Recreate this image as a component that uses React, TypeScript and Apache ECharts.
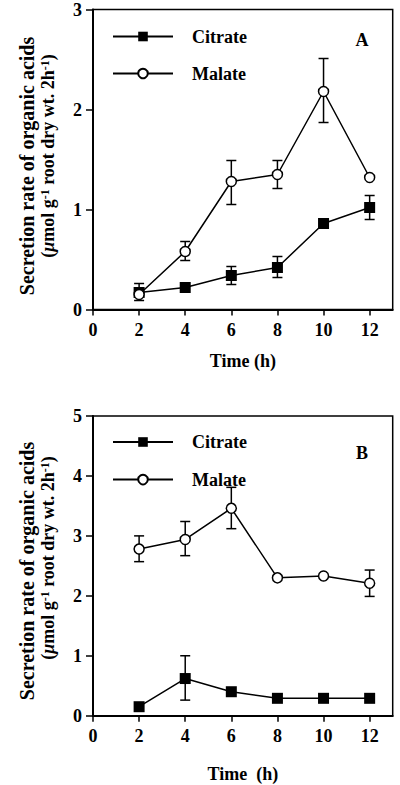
import React, { useEffect, useRef } from "react";
import * as echarts from "echarts";

const hours = [2, 4, 6, 8, 10, 12];
const xTicks = [0, 2, 4, 6, 8, 10, 12];

// Panel A
const citrateA = [0.17, 0.22, 0.34, 0.42, 0.86, 1.02];
const malateA = [0.15, 0.58, 1.28, 1.35, 2.18, 1.32];
const citrateErrA: [number, number, number][] = [
  [2, 0.09, 0.26],
  [6, 0.25, 0.43],
  [8, 0.32, 0.53],
  [12, 0.9, 1.14],
];
const malateErrA: [number, number, number][] = [
  [4, 0.49, 0.68],
  [6, 1.05, 1.49],
  [8, 1.21, 1.49],
  [10, 1.87, 2.51],
];

// Panel B
const citrateB = [0.15, 0.62, 0.4, 0.29, 0.29, 0.29];
const malateB = [2.78, 2.94, 3.46, 2.3, 2.33, 2.21];
const citrateErrB: [number, number, number][] = [[4, 0.26, 1.0]];
const malateErrB: [number, number, number][] = [
  [2, 2.57, 3.0],
  [4, 2.67, 3.24],
  [6, 3.12, 3.81],
  [12, 1.99, 2.43],
];

const FONT = "'Liberation Serif', 'Times New Roman', serif";

function pairs(vals: number[]) {
  return hours.map((h, i) => [h, vals[i]]);
}

function errSeries(data: [number, number, number][], gi: number) {
  return {
    type: "custom",
    xAxisIndex: gi,
    yAxisIndex: gi,
    z: 1,
    silent: true,
    data,
    renderItem: (params: any, api: any) => {
      const x = api.value(0);
      const lo = api.coord([x, api.value(1)]);
      const hi = api.coord([x, api.value(2)]);
      const w = 5;
      const st = { stroke: "#000", lineWidth: 1.5 };
      return {
        type: "group",
        children: [
          { type: "line", shape: { x1: lo[0], y1: lo[1], x2: hi[0], y2: hi[1] }, style: st },
          { type: "line", shape: { x1: hi[0] - w, y1: hi[1], x2: hi[0] + w, y2: hi[1] }, style: st },
          { type: "line", shape: { x1: lo[0] - w, y1: lo[1], x2: lo[0] + w, y2: lo[1] }, style: st },
        ],
      };
    },
  };
}

function lineSeries(name: string, vals: number[], gi: number, citrate: boolean) {
  return {
    type: "line",
    name,
    xAxisIndex: gi,
    yAxisIndex: gi,
    z: 3,
    data: pairs(vals),
    symbol: citrate ? "rect" : "circle",
    symbolSize: citrate ? 11 : 10,
    showAllSymbol: true,
    lineStyle: { color: "#000", width: 1.5 },
    itemStyle: {
      color: citrate ? "#000" : "#fff",
      borderColor: "#000",
      borderWidth: citrate ? 0 : 1.5,
    },
  };
}

function xAxisDef(gi: number, nameGap: number, name: string) {
  return {
    type: "value",
    gridIndex: gi,
    min: 0,
    max: 13,
    interval: 2,
    name,
    nameLocation: "middle",
    nameGap,
    nameTextStyle: { fontFamily: FONT, fontWeight: "bold", fontSize: 18, color: "#000" },
    axisLine: { show: true, lineStyle: { color: "#000", width: 2 } },
    axisTick: { show: true, inside: false, length: 6, customValues: xTicks, lineStyle: { color: "#000", width: 1.5 } },
    axisLabel: {
      customValues: xTicks,
      margin: 11,
      fontFamily: FONT,
      fontWeight: "bold",
      fontSize: 18,
      color: "#000",
    },
    splitLine: { show: false },
  };
}

function yAxisDef(gi: number, max: number) {
  return {
    type: "value",
    gridIndex: gi,
    min: 0,
    max,
    interval: 1,
    axisLine: { show: true, lineStyle: { color: "#000", width: 2 } },
    axisTick: { show: true, inside: false, length: 7, lineStyle: { color: "#000", width: 1.5 } },
    axisLabel: {
      margin: 11,
      fontFamily: FONT,
      fontWeight: "bold",
      fontSize: 18,
      color: "#000",
    },
    splitLine: { show: false },
  };
}

function legendDef(top: number, gap: number) {
  return {
    orient: "vertical",
    left: 112,
    top,
    padding: 0,
    itemWidth: 60,
    itemHeight: 12,
    itemGap: gap,
    data: ["Citrate", "Malate"],
    textStyle: {
      fontFamily: FONT,
      fontWeight: "bold",
      fontSize: 18,
      color: "#000",
      padding: [0, 0, 0, 14],
    },
    selectedMode: false,
  };
}

const richLabel = {
  a: { fontFamily: FONT, fontWeight: "bold", fontSize: 18, color: "#000" },
  mu: { fontFamily: FONT, fontWeight: "bold", fontStyle: "italic", fontSize: 18, color: "#000" },
  sup: { fontFamily: FONT, fontWeight: "bold", fontSize: 12, color: "#000", verticalAlign: "top" },
};

function yTitle(cy1: number, cy2: number) {
  return [
    {
      type: "text",
      x: 27,
      y: cy1,
      rotation: Math.PI / 2,
      style: {
        text: "Secretion rate of organic acids",
        font: `bold 20px ${FONT}`,
        fill: "#000",
        align: "center",
        verticalAlign: "middle",
      },
    },
    {
      type: "text",
      x: 48,
      y: cy2,
      rotation: Math.PI / 2,
      style: {
        text: "{a|(}{mu|μ}{a|mol g}{sup|-1}{a| root dry wt. 2h}{sup|-1}{a|)}",
        rich: richLabel,
        fill: "#000",
        align: "center",
        verticalAlign: "middle",
      },
    },
  ];
}

export default function App() {
  const ref = useRef<HTMLDivElement>(null);
  useEffect(() => {
    if (!ref.current) return;
    const chart = echarts.init(ref.current, null, { renderer: "svg" });
    chart.setOption({
      animation: false,
      backgroundColor: "#fff",
      grid: [
        { left: 93, right: 7.3, top: 9.5, bottom: 475.5, show: true, borderColor: "#000", borderWidth: 1.5, backgroundColor: "transparent" },
        { left: 93, right: 7.3, top: 416, bottom: 69.3, show: true, borderColor: "#000", borderWidth: 1.5, backgroundColor: "transparent" },
      ],
      xAxis: [xAxisDef(0, 42, "Time (h)"), xAxisDef(1, 49, "Time  (h)")],
      yAxis: [yAxisDef(0, 3), yAxisDef(1, 5)],
      legend: [legendDef(27.5, 19), legendDef(433, 19.6)],
      series: [
        errSeries(citrateErrA, 0),
        errSeries(malateErrA, 0),
        lineSeries("Citrate", citrateA, 0, true),
        lineSeries("Malate", malateA, 0, false),
        errSeries(citrateErrB, 1),
        errSeries(malateErrB, 1),
        lineSeries("Citrate", citrateB, 1, true),
        lineSeries("Malate", malateB, 1, false),
      ],
      graphic: [
        { type: "text", x: 362, y: 40, style: { text: "A", font: `bold 18px ${FONT}`, fill: "#000", align: "center", verticalAlign: "middle" } },
        { type: "text", x: 362, y: 453, style: { text: "B", font: `bold 18px ${FONT}`, fill: "#000", align: "center", verticalAlign: "middle" } },
        ...yTitle(166, 156),
        ...yTitle(571, 558),
      ],
    });
    return () => chart.dispose();
  }, []);
  return (
    <div
      ref={ref}
      style={{ position: "fixed", left: 0, top: 0, width: 400, height: 785, background: "#fff" }}
    />
  );
}
